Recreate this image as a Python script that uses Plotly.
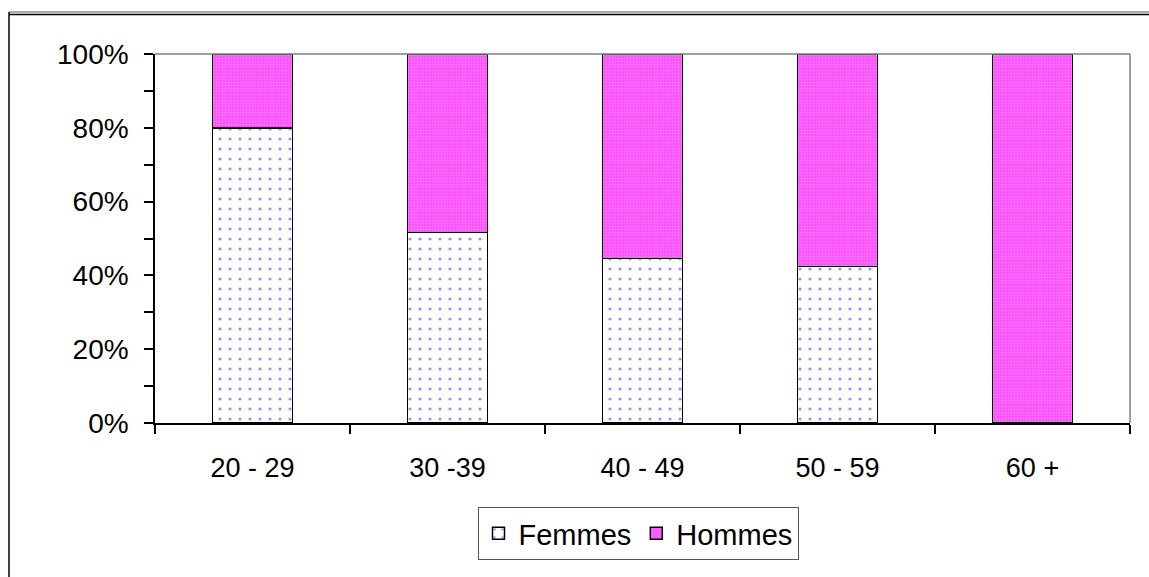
import plotly.graph_objects as go

# Age groups and share of each sex (%)
age_groups = ["20 - 29", "30 -39", "40 - 49", "50 - 59", "60 +"]
femmes = [80.0, 51.6, 44.6, 42.4, 0.0]
hommes = [round(100 - v, 1) for v in femmes]

W, H = 1149, 577
L, R, T, B = 155, 1130, 54, 423  # plot area in pixels


def px_x(x):
    return (x - L) / (R - L)


def px_y(y):
    return (B - y) / (B - T)


FONT = "Liberation Sans, Arial, sans-serif"

fig = go.Figure()
fig.add_trace(go.Bar(
    name="Femmes", x=age_groups, y=femmes,
    marker=dict(
        color="white",
        line=dict(color="black", width=1.5),
        pattern=dict(shape=".", fgcolor="#2a2aff", bgcolor="white",
                     size=10, solidity=0.08, fillmode="overlay"),
    ),
))
fig.add_trace(go.Bar(
    name="Hommes", x=age_groups, y=hommes,
    marker=dict(
        color="#ff4dff",
        line=dict(color="black", width=1.5),
        pattern=dict(shape=".", fgcolor="#ffb8ff", bgcolor="#ff4dff",
                     size=3, solidity=0.3, fillmode="overlay"),
    ),
))

fig.update_layout(
    width=W, height=H,
    barmode="stack",
    bargap=0.59,
    paper_bgcolor="white",
    plot_bgcolor="white",
    margin=dict(l=L, r=W - R, t=T, b=H - B, pad=0),
    font=dict(family=FONT, size=28, color="black"),
    showlegend=True,
    legend=dict(
        orientation="h",
        x=px_x(638), xanchor="center",
        y=px_y(507), yanchor="top",
        bordercolor="#555555", borderwidth=1,
        font=dict(size=29),
        traceorder="normal",
        itemwidth=30,
    ),
    xaxis=dict(
        showline=True, linecolor="black", linewidth=1.5,
        ticks="outside", tickson="boundaries", ticklen=9,
        tickcolor="black", tickwidth=1.5,
        tickfont=dict(size=27),
        showgrid=False, zeroline=False,
        ticklabelstandoff=20,
    ),
    yaxis=dict(
        range=[0, 100], dtick=20, ticksuffix="%",
        showline=True, linecolor="black", linewidth=1.5,
        ticks="outside", ticklen=9, tickcolor="black", tickwidth=1.5,
        minor=dict(dtick=10, ticks="outside", ticklen=9,
                   tickcolor="black", tickwidth=1.5),
        showgrid=False, zeroline=False,
        ticklabelstandoff=10,
    ),
    shapes=[
        # gray frame on the top and right of the plot area
        dict(type="line", xref="paper", yref="paper", x0=0, x1=1, y0=1, y1=1,
             line=dict(color="#808080", width=1.5)),
        dict(type="line", xref="paper", yref="paper", x0=1, x1=1, y0=0, y1=1,
             line=dict(color="#808080", width=1.5)),
        # outer chart border (double top line, single left line)
        dict(type="line", xref="paper", yref="paper",
             x0=px_x(9), x1=px_x(1160), y0=px_y(12), y1=px_y(12),
             line=dict(color="#555555", width=1)),
        dict(type="line", xref="paper", yref="paper",
             x0=px_x(9), x1=px_x(1160), y0=px_y(14.5), y1=px_y(14.5),
             line=dict(color="black", width=1.5)),
        dict(type="line", xref="paper", yref="paper",
             x0=px_x(9), x1=px_x(9), y0=px_y(12), y1=px_y(590),
             line=dict(color="black", width=1.5)),
    ],
)

fig.write_html("out.html")
